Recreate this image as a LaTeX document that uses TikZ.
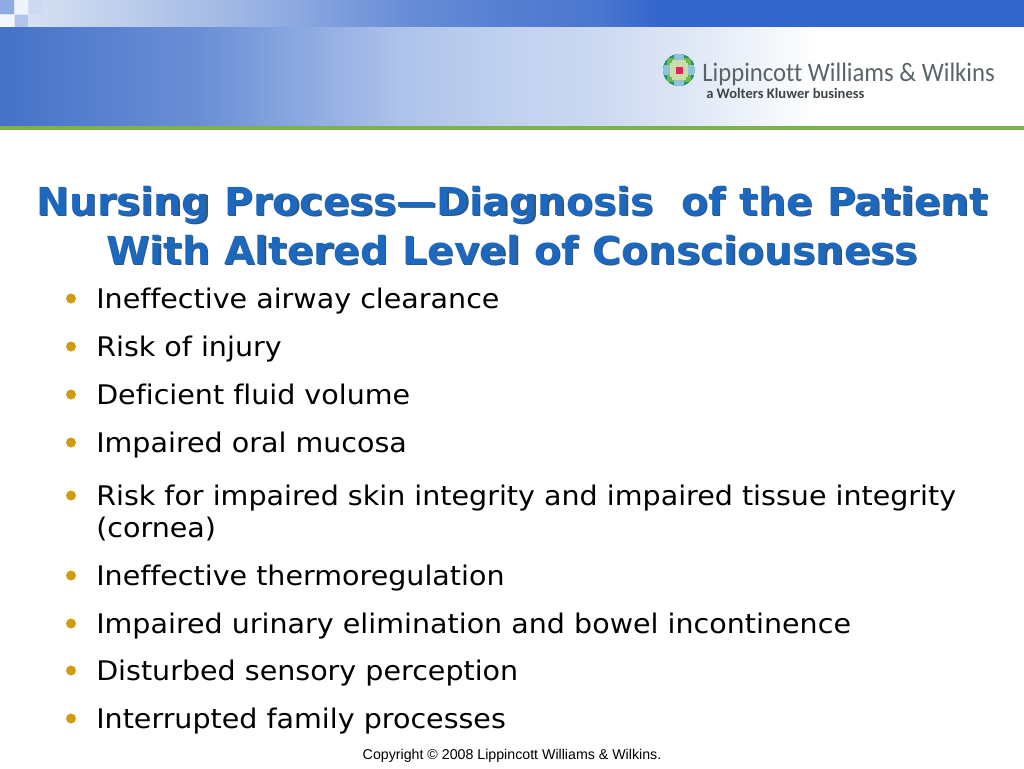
\documentclass[tikz,border=0pt]{standalone}
\usepackage{fontspec}
\setmainfont{DejaVu Sans}[FakeStretch=1.057,Ligatures=NoCommon]
\newfontfamily\titlefont{DejaVu Sans}[FakeStretch=1.026,Ligatures=NoCommon]
\newfontfamily\copyfont{Liberation Sans}
\newfontfamily\logofont{Carlito}[FakeStretch=0.927,Ligatures=NoCommon]
\newfontfamily\logosub{Carlito}[Ligatures=NoCommon]
\definecolor{titleblue}{HTML}{1C68BE}
\definecolor{titleshade}{HTML}{14375F}
\definecolor{bulletgold}{HTML}{D29C12}
\definecolor{barblue}{HTML}{3366CC}
\definecolor{leafgreen}{HTML}{7DB24A}
\definecolor{logogrey}{HTML}{5A6468}
\definecolor{lgreen}{HTML}{6DB84F}
\definecolor{lpale}{HTML}{C9DDA8}
\definecolor{lblue}{HTML}{8FC4D8}
\definecolor{lteal}{HTML}{1F8F7E}
\definecolor{lpink}{HTML}{E0245E}
\definecolor{bandA}{HTML}{4472C8}
\definecolor{bandB}{HTML}{6B8FD6}
\definecolor{bandC}{HTML}{8AA8E0}
\definecolor{bandD}{HTML}{AEC2EA}
\definecolor{bandE}{HTML}{BFD0EF}
\definecolor{bandF}{HTML}{CCD9F1}
\definecolor{bandG}{HTML}{E2E9F6}
\definecolor{stripA}{HTML}{DFE6F5}
\definecolor{stripB}{HTML}{A9BEE6}
\definecolor{stripC}{HTML}{8AA7DF}
\definecolor{stripD}{HTML}{6A8ED7}
\definecolor{stripE}{HTML}{5580D2}
\definecolor{stripF}{HTML}{4A76CE}
\pgfdeclarehorizontalshading{bandshade}{100bp}{
 color(0bp)=(bandA); color(25bp)=(bandA); color(34.77bp)=(bandB); color(39.65bp)=(bandC); color(44.53bp)=(bandD);
 color(49.41bp)=(bandE); color(54.3bp)=(bandF); color(59.18bp)=(bandG); color(65bp)=(white); color(100bp)=(white)}
\pgfdeclarehorizontalshading{stripshade}{100bp}{
 color(0bp)=(stripA); color(25bp)=(stripA); color(34.77bp)=(stripB); color(39.65bp)=(stripC); color(44.53bp)=(stripD);
 color(49.41bp)=(stripE); color(54.3bp)=(stripF); color(57.2bp)=(barblue); color(100bp)=(barblue)}
\tikzset{
 x=0.75pt,y=-0.75pt,
 item/.style={anchor=base west,inner sep=0pt,font=\fontsize{20.25pt}{24pt}\selectfont},
 dotb/.style={circle,fill=bulletgold,inner sep=0pt,minimum size=7.5pt},
 ttl/.style={anchor=base,inner sep=0pt,font=\titlefont\bfseries\fontsize{28.9pt}{34pt}\selectfont}
}
\begin{document}
\begin{tikzpicture}
\useasboundingbox (0,0) rectangle (1024,768);
\fill[white] (0,0) rectangle (1024,768);
% header
\shade[shading=stripshade] (0,0) rectangle (1024,27);
\shade[shading=bandshade] (0,27) rectangle (1024,126);
\fill[leafgreen] (0,126) rectangle (1024,130);
% checker squares
\fill[barblue!55!white] (0,0) rectangle (14,14);
\fill[barblue!8!white] (15,0) rectangle (28,14);
\fill[barblue!25!white] (29,0) rectangle (43,14);
\fill[barblue!6!white] (0,15) rectangle (14,27);
\fill[barblue!38!white] (15,15) rectangle (28,27);
% logo
\begin{scope}
\clip (679,70) circle (16);
\fill[lgreen] (663,54) rectangle (695,86);
\fill[lteal] (663,54) rectangle (695,58);
\fill[lteal] (663,82) rectangle (695,86);
\fill[lteal] (663,54) rectangle (667,86);
\fill[lteal] (691,54) rectangle (695,86);
\fill[lblue] (674,54) rectangle (684,60);
\fill[lblue] (674,80) rectangle (684,86);
\fill[lblue] (663,65) rectangle (670,75);
\fill[lblue] (688,65) rectangle (695,75);
\fill[lpale] (672,60) rectangle (686,80);
\fill[lpale] (670,63) rectangle (688,77);
\fill[lpink] (675.5,66.5) rectangle (682.5,73.5);
\end{scope}
\node[anchor=base west,inner sep=0pt,text=logogrey,font=\logofont\fontsize{20pt}{24pt}\selectfont] (logoa) at (702,81) {Lippincott Williams \& Wilkins};
\node[anchor=base west,inner sep=0pt,text=logogrey!70!black,font=\logosub\bfseries\fontsize{10.9pt}{12pt}\selectfont] (logob) at (706,98) {a Wolters Kluwer business};
% title
\foreach \n/\yy/\tt in {t1/215/{Nursing Process—Diagnosis\ \ of the Patient},t2/264/{With Altered Level of Consciousness}}{
 \node[ttl,text=titleshade!85] (\n s) at (513.5,\yy+1.5) {\tt};
 \node[ttl,text=titleblue] (\n) at (512,\yy) {\tt};
}
% bullets
\foreach \n/\yy/\tt in {
 a/308/{Ineffective airway clearance},
 b/356/{Risk of injury},
 c/404/{Deficient fluid volume},
 d/452/{Impaired oral mucosa},
 e/505/{Risk for impaired skin integrity and impaired tissue integrity},
 g/585/{Ineffective thermoregulation},
 h/633/{Impaired urinary elimination and bowel incontinence},
 i/680/{Disturbed sensory perception},
 j/728/{Interrupted family processes}}{
 \node[item] (\n) at (96,\yy) {\tt};
 \node[dotb] (\n dot) at (71,\yy-9.5) {};
}
\node[item] (f) at (96,537) {(cornea)};
\node[anchor=base,inner sep=0pt,font=\copyfont\fontsize{10.65pt}{12pt}\selectfont] (copy) at (512,759) {Copyright © 2008 Lippincott Williams \& Wilkins.};
\end{tikzpicture}
\end{document}
